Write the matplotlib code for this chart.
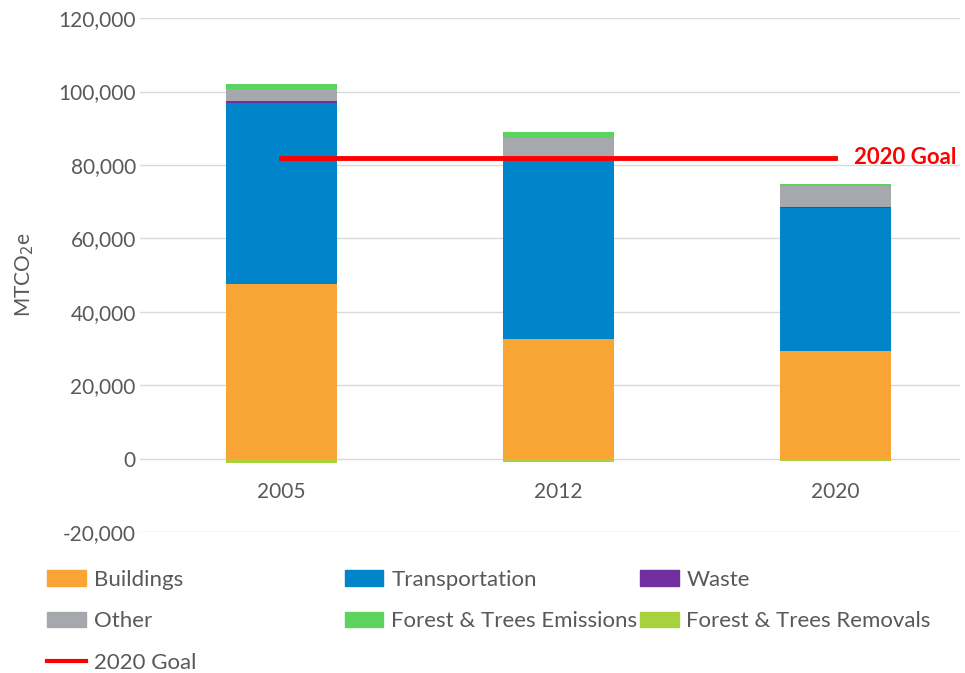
import matplotlib.pyplot as plt
import numpy as np
from matplotlib.lines import Line2D
from matplotlib.patches import Patch
from matplotlib.ticker import FuncFormatter

plt.rcParams['font.family'] = ['Lato', 'DejaVu Sans']

years = ["2005", "2012", "2020"]
buildings = [47600, 32700, 29400]
transportation = [49300, 48800, 39000]
waste = [400, 500, 200]
other = [3500, 5300, 5700]
forest_emissions = [1400, 1600, 400]
forest_removals = [-1200, -800, -600]
goal = 82000

text_grey = "#595959"
colors = {
    "Buildings": "#F9A535",
    "Transportation": "#0085CA",
    "Waste": "#7030A0",
    "Other": "#A5A9AD",
    "Forest & Trees Emissions": "#5CD35E",
    "Forest & Trees Removals": "#A9D13C",
}

fig = plt.figure(figsize=(9.65, 6.73), dpi=100)
ax = fig.add_axes([0.145, 0.2095, 0.85, 0.7635])

x = np.arange(len(years))
w = 0.4
bottom = np.zeros(len(years))
series = [("Buildings", buildings), ("Transportation", transportation),
          ("Waste", waste), ("Other", other),
          ("Forest & Trees Emissions", forest_emissions)]
for name, vals in series:
    ax.bar(x, vals, w, bottom=bottom, color=colors[name], zorder=2)
    bottom += np.array(vals)
ax.bar(x, forest_removals, w, color=colors["Forest & Trees Removals"], zorder=2)

ax.plot([x[0], x[-1]], [goal, goal], color="#FF0000", lw=3.5, zorder=3)
ax.annotate("2020 Goal", (x[-1], goal), xytext=(13, 0), textcoords="offset points",
            color="#FF0000", fontweight="bold", fontsize=16, va="center", ha="left")

ax.set_xlim(-0.51, 2.45)
ax.set_ylim(-20000, 120000)
ax.set_yticks(np.arange(-20000, 120001, 20000))
ax.yaxis.set_major_formatter(FuncFormatter(lambda v, p: f"{int(v):,}"))
ax.set_xticks(x)
ax.set_xticklabels(years)
# category labels sit just under the zero line, like Excel
ax.spines["bottom"].set_position(("data", 0))
ax.tick_params(length=0, labelsize=15, colors=text_grey)
ax.tick_params(axis="y", pad=3)
ax.tick_params(axis="x", pad=17)
ax.grid(axis="y", color="#D9D9D9", lw=1, zorder=0)
for s in ax.spines.values():
    s.set_visible(False)
ax.set_ylabel("MTCO$_2$e", fontsize=15, color=text_grey, labelpad=16)

h = {name: Patch(color=c) for name, c in colors.items()}
h["2020 Goal"] = Line2D([], [], color="#FF0000", lw=3)
columns = [(0.049, ["Buildings", "Other", "2020 Goal"]),
           (0.357, ["Transportation", "Forest & Trees Emissions"]),
           (0.663, ["Waste", "Forest & Trees Removals"])]
for xpos, names in columns:
    fig.legend([h[k] for k in names], names, loc="upper left",
               bbox_to_anchor=(xpos, 0.1535), frameon=False, fontsize=16,
               labelcolor=text_grey, handlelength=1.75, handleheight=0.7,
               handletextpad=0.35, labelspacing=0.98, borderpad=0,
               borderaxespad=0)

fig.savefig("out.png", dpi=100)
